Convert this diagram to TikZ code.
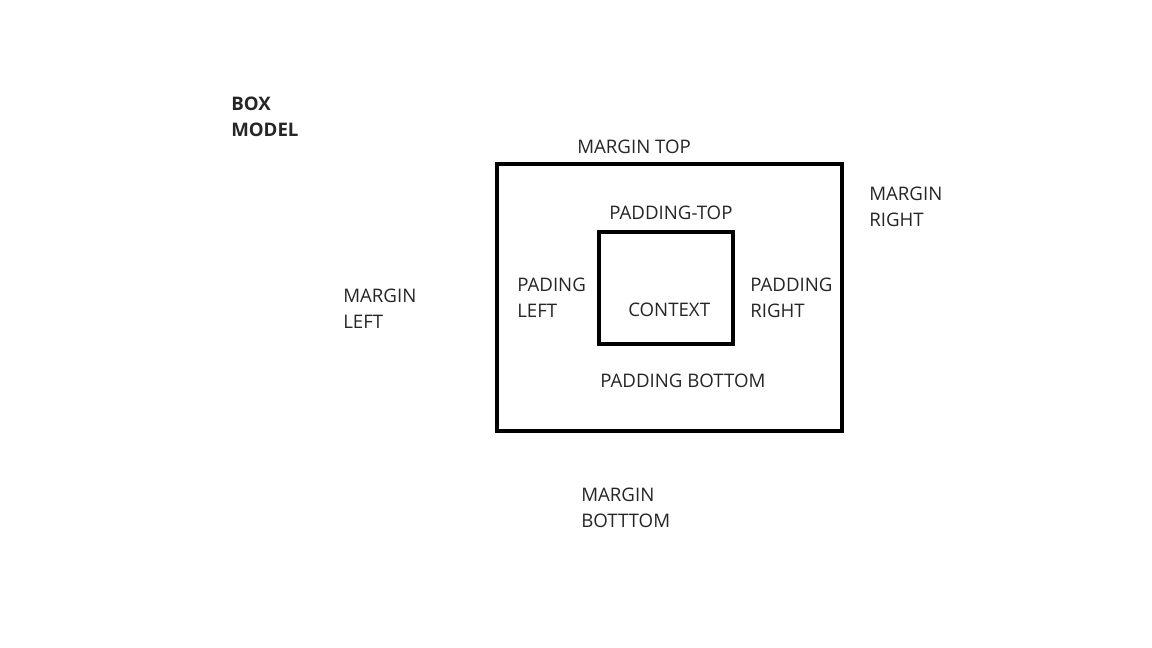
\documentclass[tikz,border=0pt]{standalone}
\usepackage{fontspec}
\setmainfont{Open Sans}
\definecolor{txt}{HTML}{262626}
\begin{document}
\begin{tikzpicture}[x=0.75pt,y=-0.75pt,
  lbl/.style={anchor=base west,inner sep=0pt,text=txt,font=\fontsize{14}{19.5}\selectfont,align=left},
  boxline/.style={draw=black,line width=3pt,inner sep=0pt,outer sep=0pt,anchor=north west}]
\useasboundingbox[fill=white] (0,0) rectangle (1152,648);
\node[boxline,minimum width=345*0.75pt,minimum height=267*0.75pt] (outer) at (497,164) {};
\node[boxline,minimum width=134*0.75pt,minimum height=112*0.75pt] (inner) at (599,232) {};
\node[lbl,font=\fontsize{14}{19.5}\selectfont\bfseries] (title) at (231,137) {BOX\\MODEL};
\node[lbl] (mtop) at (577,154) {MARGIN TOP};
\node[lbl] (mright) at (869,227) {MARGIN\\RIGHT};
\node[lbl] (ptop) at (609,220) {PADDING-TOP};
\node[lbl] (mleft) at (343,329) {MARGIN\\LEFT};
\node[lbl] (pleft) at (517,318) {PADING\\LEFT};
\node[lbl] (ctx) at (628,317) {CONTEXT};
\node[lbl] (pright) at (750,318) {PADDING\\RIGHT};
\node[lbl] (pbottom) at (600,387) {PADDING BOTTOM};
\node[lbl] (mbottom) at (581,527) {MARGIN\\BOTTTOM};
\end{tikzpicture}
\end{document}
